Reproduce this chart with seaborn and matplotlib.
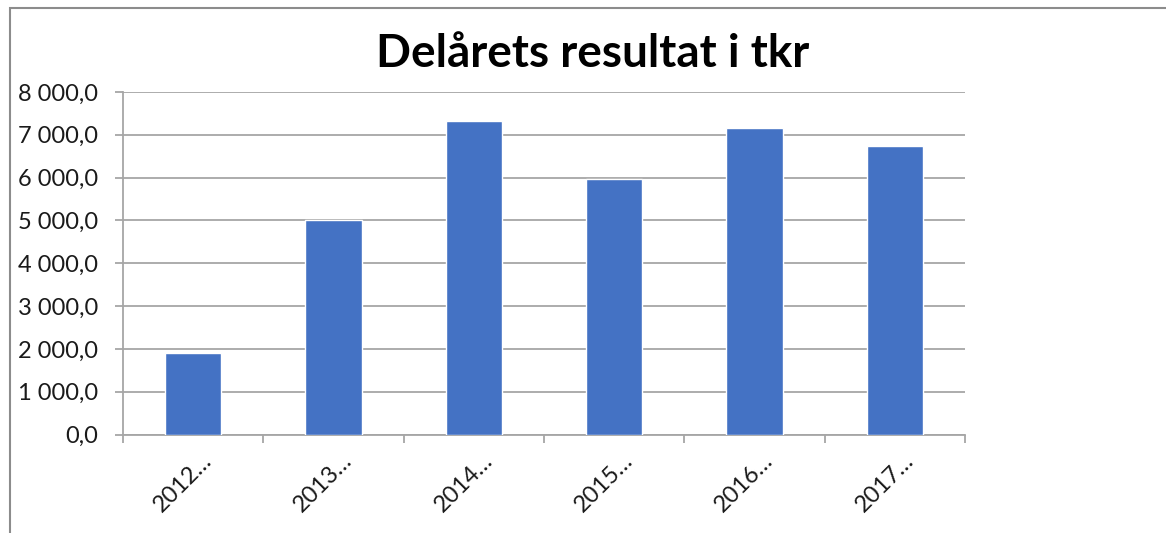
import matplotlib
matplotlib.use("Agg")
import matplotlib.pyplot as plt
import matplotlib.transforms as mtransforms
from matplotlib.ticker import FuncFormatter, FixedLocator
from matplotlib.patches import Rectangle
import pandas as pd
import seaborn as sns

# data
periods = ['2012…', '2013…', '2014…', '2015…', '2016…', '2017…']
resultat = [1900, 5000, 7320, 5960, 7160, 6740]
y_ticks = [0, 1000, 2000, 3000, 4000, 5000, 6000, 7000, 8000]

df = pd.DataFrame({'Period': periods, 'Resultat': resultat})

sns.set_theme(style="white")
plt.rcParams['font.family'] = ['Lato', 'DejaVu Sans']

fig = plt.figure(figsize=(11.66, 5.33), dpi=100)
ax = fig.add_axes([123 / 1166, 1 - 434.5 / 533, (965 - 123) / 1166, (434.5 - 92) / 533])

grid_col = '#a6a6a6'
text_col = '#1a1a1a'

sns.barplot(data=df, x='Period', y='Resultat', color='#4472C4', width=0.4,
            saturation=1, ax=ax, zorder=3)

ax.set_xlim(-0.5, len(periods) - 0.5)
ax.set_ylim(0, 8000)
ax.set_yticks(y_ticks)
ax.yaxis.set_major_formatter(
    FuncFormatter(lambda v, p: f"{v:,.1f}".replace(",", " ").replace(".", ",")))
ax.yaxis.grid(True, color=grid_col, lw=1.3, zorder=0)
ax.set_xlabel('')
ax.set_ylabel('')

for side in ['top', 'right']:
    ax.spines[side].set_visible(False)
for side in ['left', 'bottom']:
    ax.spines[side].set_color(grid_col)
    ax.spines[side].set_linewidth(1.3)

ax.tick_params(axis='y', direction='out', length=6, width=1.3, color=grid_col,
               labelsize=17, labelcolor=text_col, pad=12, left=True)
ax.tick_params(axis='x', which='major', length=0, labelsize=17, labelcolor=text_col, pad=11)
ax.xaxis.set_minor_locator(FixedLocator([i - 0.5 for i in range(len(periods) + 1)]))
ax.tick_params(axis='x', which='minor', direction='out', length=6, width=1.3,
               color=grid_col, bottom=True)

offset = mtransforms.ScaledTranslation(8 / 100, 0, fig.dpi_scale_trans)
for lab in ax.get_xticklabels():
    lab.set_rotation(45)
    lab.set_ha('right')
    lab.set_rotation_mode('anchor')
    lab.set_transform(lab.get_transform() + offset)

fig.text(593 / 1166, 1 - 67 / 533, 'Delårets resultat i tkr', ha='center',
         va='baseline', fontsize=33, fontweight='bold', color='black')

# chart frame
fig.patches.append(Rectangle((9.5 / 1166, -0.05), 1.2, 1 - 7.5 / 533 + 0.05,
                             transform=fig.transFigure, fill=False,
                             edgecolor='#8c8c8c', lw=1.5))

fig.savefig('out.png', dpi=100)
